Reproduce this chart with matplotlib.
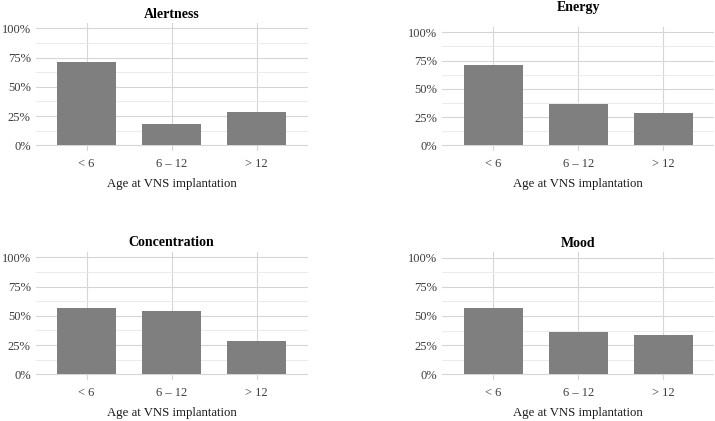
import matplotlib.pyplot as plt
import numpy as np
from matplotlib.ticker import PercentFormatter

# Data
age_groups = ["< 6", "6 \u2013 12", "> 12"]
alertness = [0.714, 0.182, 0.286]
energy = [0.714, 0.364, 0.286]
concentration = [0.571, 0.545, 0.286]
mood = [0.571, 0.364, 0.333]

titles = ["Alertness", "Energy", "Concentration", "Mood"]
series = [alertness, energy, concentration, mood]

W, H = 715, 421
plt.rcParams["font.family"] = ["Liberation Serif", "DejaVu Serif"]

fig = plt.figure(figsize=(W / 100, H / 100), dpi=100)

# panel boxes in pixels: left, right, top, bottom, title baseline, y-tick pad
boxes = [
    (35.5, 307.7, 22.5, 151.2, 17.5, 3.5),
    (442.3, 714.3, 26.6, 151.1, 11.5, 3.5),
    (35.5, 307.7, 251.5, 380.2, 246.5, 3.5),
    (442.3, 714.3, 251.9, 380.1, 247.5, 3.5),
]

for title, vals, (l, r, t, b, ty, ypad) in zip(titles, series, boxes):
    ax = fig.add_axes([l / W, 1 - b / H, (r - l) / W, (b - t) / H])
    x = np.arange(len(age_groups))
    ax.bar(x, vals, width=0.7, color="#7f7f7f", zorder=3)
    ax.set_xlim(-0.6, len(age_groups) - 0.4)
    ax.set_ylim(-0.05, 1.05)
    ax.set_yticks([0, 0.25, 0.5, 0.75, 1.0])
    ax.set_yticks([0.125, 0.375, 0.625, 0.875], minor=True)
    ax.yaxis.set_major_formatter(PercentFormatter(1.0, decimals=0))
    ax.set_xticks(x)
    ax.set_xticklabels(age_groups)
    ax.grid(axis="y", which="major", color="#d6d6d6", lw=0.8, zorder=0)
    ax.grid(axis="y", which="minor", color="#e8e8e8", lw=0.6, zorder=0)
    ax.grid(axis="x", which="major", color="#d6d6d6", lw=0.8, zorder=0)
    for s in ax.spines.values():
        s.set_visible(False)
    ax.tick_params(axis="both", which="both", length=0, labelsize=9, labelcolor="#3d3d3d")
    ax.tick_params(axis="x", pad=5)
    ax.tick_params(axis="y", pad=ypad)
    ax.set_xlabel("Age at VNS implantation", fontsize=9.2, color="#1a1a1a", labelpad=6)
    fig.text((l + r) / 2 / W, 1 - ty / H, title, ha="center", va="baseline",
             fontsize=10, fontweight="bold")

fig.savefig("out.png", dpi=100)
